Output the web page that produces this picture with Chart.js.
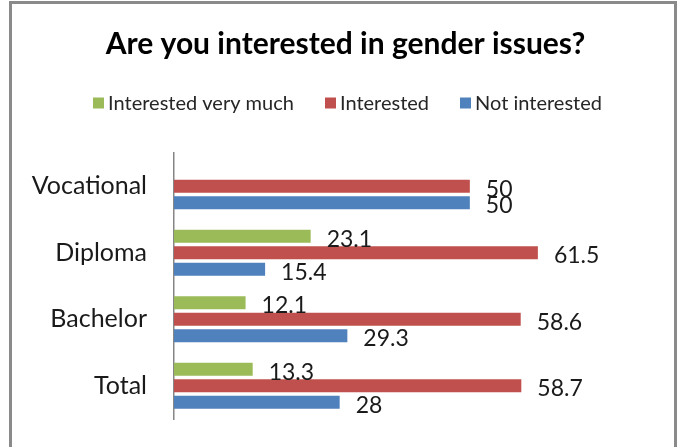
<!DOCTYPE html>
<html>
<head>
<meta charset="utf-8">
<script src="https://cdn.jsdelivr.net/npm/chart.js@4/dist/chart.umd.min.js"></script>
<style>
  html, body { margin: 0; padding: 0; background: #fff; }
  #wrap { width: 677px; height: 447px; position: relative; }
</style>
</head>
<body>
<div id="wrap"><canvas id="c" width="677" height="447"></canvas></div>
<script>
// Survey answers by level of education (percent)
const categories = ['Vocational', 'Diploma', 'Bachelor', 'Total'];
const seriesNames = ['Interested very much', 'Interested', 'Not interested'];
const veryMuch = [null, 23.1, 12.1, 13.3];
const interested = [50, 61.5, 58.6, 58.7];
const notInterested = [50, 15.4, 29.3, 28];
const seriesColors = ['#9BBB59', '#C0504D', '#4F81BD'];

const FONT = 'Lato, "Open Sans", sans-serif';

// Gray frame around the whole figure (bottom edge runs off the canvas)
const framePlugin = {
  id: 'frame',
  beforeDraw(chart) {
    const ctx = chart.ctx;
    ctx.save();
    ctx.fillStyle = '#ffffff';
    ctx.fillRect(0, 0, chart.width, chart.height);
    ctx.fillStyle = '#8a8a8a';
    ctx.fillRect(9, 1, 3, chart.height);
    ctx.fillRect(9, 1, chart.width - 9, 3);
    ctx.fillRect(674, 1, 3, chart.height);
    ctx.restore();
  }
};

// Compact legend: small square, tight gap, centered row
const legendRow = {
  id: 'legendRow',
  afterDraw(chart) {
    const ctx = chart.ctx;
    const size = 20, box = 11, gap = 4, spacing = 31, cy = 103;
    ctx.save();
    ctx.font = size + 'px ' + FONT;
    const items = chart.data.datasets.map(ds => ({
      text: ds.label, color: ds.backgroundColor,
      w: ctx.measureText(ds.label).width
    }));
    const total = items.reduce((s, it) => s + box + gap + it.w, 0) + spacing * (items.length - 1);
    let x = 347.5 - total / 2;
    ctx.textBaseline = 'middle';
    ctx.textAlign = 'left';
    items.forEach(it => {
      ctx.fillStyle = it.color;
      ctx.fillRect(Math.round(x), cy - 5.5, box, box);
      ctx.fillStyle = '#262626';
      ctx.fillText(it.text, x + box + gap, cy + 1);
      x += box + gap + it.w + spacing;
    });
    ctx.restore();
  }
};

// Value labels to the right of each bar
const valueLabels = {
  id: 'valueLabels',
  afterDatasetsDraw(chart) {
    const ctx = chart.ctx;
    ctx.save();
    ctx.font = '23px ' + FONT;
    ctx.fillStyle = '#1a1a1a';
    ctx.textAlign = 'left';
    ctx.textBaseline = 'middle';
    chart.data.datasets.forEach((ds, i) => {
      const meta = chart.getDatasetMeta(i);
      meta.data.forEach((el, j) => {
        const v = ds.data[j];
        if (v === null || v === undefined) return;
        ctx.fillText(String(v), el.x + 16, el.y + 3);
      });
    });
    ctx.restore();
  }
};

new Chart(document.getElementById('c'), {
  type: 'bar',
  data: {
    labels: categories,
    datasets: [
      { label: seriesNames[0], data: veryMuch, backgroundColor: seriesColors[0] },
      { label: seriesNames[1], data: interested, backgroundColor: seriesColors[1] },
      { label: seriesNames[2], data: notInterested, backgroundColor: seriesColors[2] }
    ]
  },
  options: {
    indexAxis: 'y',
    responsive: false,
    animation: false,
    devicePixelRatio: 1,
    categoryPercentage: 0.744,
    barPercentage: 0.79,
    layout: { padding: { left: 20, right: 6, top: 0, bottom: 28 } },
    scales: {
      x: {
        display: false,
        min: 0,
        max: 84
      },
      y: {
        grid: { display: false, drawTicks: false },
        border: { display: true, color: '#868686', width: 1.5 },
        ticks: {
          padding: 27,
          color: '#1a1a1a',
          font: { family: FONT, size: 25 }
        },
        afterFit(scale) {
          scale.width = 154;
          scale.paddingTop = 0;
          scale.paddingBottom = 0;
        }
      }
    },
    plugins: {
      legend: { display: false },
      tooltip: { enabled: false },
      title: {
        display: true,
        text: 'Are you interested in gender issues?',
        color: '#000000',
        font: { family: FONT, size: 30, weight: 'bold', lineHeight: 1.2 },
        padding: { top: 26, bottom: 91 }
      }
    }
  },
  plugins: [framePlugin, legendRow, valueLabels]
});
</script>
</body>
</html>
